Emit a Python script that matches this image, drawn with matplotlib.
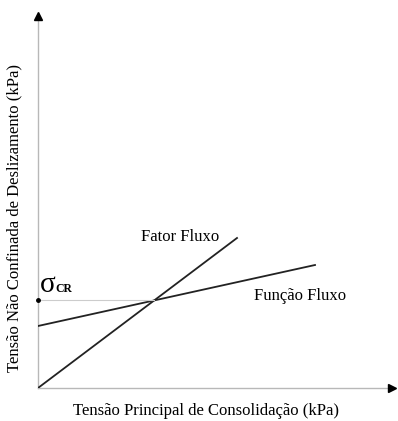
import numpy as np
import matplotlib.pyplot as plt

# lines (arbitrary units, origin at axes corner)
fator_x = [0, 199]
fator_y = [0, 150]
funcao_x = [0, 277]
funcao_y = [62, 123]

plt.rcParams['font.family'] = ['Liberation Serif', 'DejaVu Serif']

fig = plt.figure(figsize=(3.98, 4.21), dpi=100)
ax = fig.add_axes([38/398, 33/421, 357/398, 378/421])
ax.set_xlim(0, 357)
ax.set_ylim(0, 378)
ax.axis('off')

# axes (gray) with black arrow heads
ax.plot([0, 354], [0, 0], color='#b8b8b8', lw=1.0, clip_on=False)
ax.plot([0, 0], [0, 372], color='#b8b8b8', lw=1.0, clip_on=False)
ax.plot([354], [0], marker='>', color='black', ms=6, clip_on=False)
ax.plot([0], [372], marker='^', color='black', ms=6, clip_on=False)

ax.plot(fator_x, fator_y, color='#222222', lw=1.3)
ax.plot(funcao_x, funcao_y, color='#222222', lw=1.3)

# critical point
m1 = (fator_y[1] - fator_y[0]) / (fator_x[1] - fator_x[0])
m2 = (funcao_y[1] - funcao_y[0]) / (funcao_x[1] - funcao_x[0])
xc = (funcao_y[0] - fator_y[0]) / (m1 - m2)
yc = fator_y[0] + m1 * xc
ax.plot([0, xc], [yc, yc], color='#cccccc', lw=0.8)
ax.plot([0], [yc], marker='o', color='black', ms=2.5, clip_on=False)
ax.text(2, yc + 8, 'σ', fontsize=21, va='baseline', ha='left')
ax.text(17, yc + 8, 'CR', fontsize=8.5, va='baseline', ha='left', fontweight='bold')

ax.text(142, 151, 'Fator Fluxo', fontsize=12, ha='center', va='center')
ax.text(262, 92, 'Função Fluxo', fontsize=12, ha='center', va='center')

fig.text(206/398, 1 - 411/421, 'Tensão Principal de Consolidação (kPa)', fontsize=12,
         ha='center', va='center')
fig.text(14/398, 1 - 218/421, 'Tensão Não Confinada de Deslizamento (kPa)', fontsize=12,
         ha='center', va='center', rotation=90)

fig.savefig('out.png', dpi=100)
